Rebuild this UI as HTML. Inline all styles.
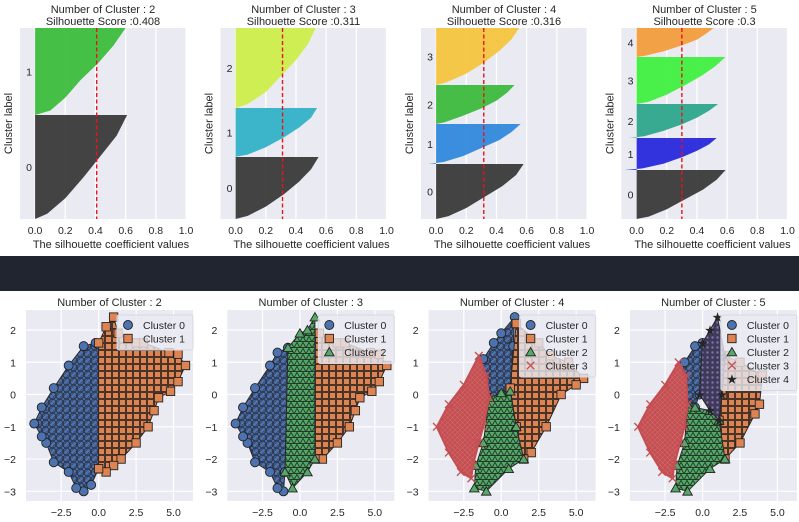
<!DOCTYPE html>
<html><head><meta charset="utf-8"><style>
body{margin:0;background:#fff;width:799px;height:522px;overflow:hidden;font-family:"Liberation Sans",sans-serif}
svg{display:block}
text{font-family:"Liberation Sans",sans-serif;fill:#262626}
</style></head><body>
<svg id="c" width="799" height="522">
<defs>
<pattern id="pat0" width="7" height="7" patternUnits="userSpaceOnUse"><rect width="7" height="7" fill="#4c72b0"/><circle cx="3.5" cy="3.5" r="3.4" fill="#4c72b0" stroke="#2a2f3f" stroke-width="0.9"/><circle cx="0" cy="0" r="3.4" fill="none" stroke="#2a2f3f" stroke-width="0.6"/><circle cx="7" cy="7" r="3.4" fill="none" stroke="#2a2f3f" stroke-width="0.6"/></pattern>
<pattern id="pat1" width="7" height="7" patternUnits="userSpaceOnUse"><rect width="7" height="7" fill="#dd8452"/><rect x="0.5" y="0.5" width="6" height="6" fill="#dd8452" stroke="#3a2a22" stroke-width="0.9"/></pattern>
<pattern id="pat2" width="6" height="6" patternUnits="userSpaceOnUse"><rect width="6" height="6" fill="#55a868"/><path d="M3,0.3 L5.8,5.5 L0.2,5.5 Z" fill="#55a868" stroke="#1f3a26" stroke-width="0.9"/></pattern>
<pattern id="pat3" width="5" height="5" patternUnits="userSpaceOnUse"><rect width="5" height="5" fill="#c44e52"/><path d="M0,0 L5,5 M5,0 L0,5" stroke="#d2696c" stroke-width="0.6"/></pattern>
<pattern id="pat4" width="5" height="5" patternUnits="userSpaceOnUse"><rect width="5" height="5" fill="#3e3a58"/><circle cx="2.5" cy="2.5" r="1.2" fill="#8172b3"/></pattern>
</defs>
<rect x="0" y="256" width="799" height="35" fill="#21252f"/>
</svg>
<script>
// ---------- silhouette data ----------
const silK = [2,3,4,5];
const silScores = [0.408,0.311,0.316,0.3];
const silSizes = [[104,87],[62,49,80],[55,40,39,57],[49,32,34,47,29]];
const silFracs = [0,0.05,0.2,0.4,0.6,0.8,1];
const silProfiles = [
 [[0,0.08,0.2,0.32,0.43,0.54,0.61],[0,0.1,0.2,0.3,0.42,0.52,0.6]],
 [[0,0.08,0.2,0.32,0.42,0.5,0.55],[-0.01,0.08,0.2,0.32,0.42,0.5,0.54],[0,0.08,0.2,0.3,0.4,0.48,0.53]],
 [[0,0.08,0.2,0.32,0.44,0.53,0.58],[-0.05,0.05,0.18,0.3,0.42,0.5,0.56],[0,0.06,0.17,0.3,0.4,0.47,0.52],[0,0.07,0.2,0.32,0.42,0.5,0.55]],
 [[0,0.08,0.2,0.32,0.44,0.53,0.59],[-0.08,0.04,0.18,0.3,0.4,0.48,0.53],[-0.05,0.05,0.17,0.3,0.4,0.48,0.54],[0,0.08,0.2,0.32,0.43,0.52,0.59],[0,0.06,0.18,0.3,0.4,0.46,0.51]]
];
const silColors = [["#3a3a3a","#3dbd3d"],["#3a3a3a","#33b1c6","#cdee4a"],["#3a3a3a","#3189dc","#3cbb3c","#f6c53e"],["#3a3a3a","#2929dc","#2ea68c","#3ff03f","#f39d3d"]];
const silTicks = [0,0.2,0.4,0.6,0.8,1.0];
const silTickLabels = ["0.0","0.2","0.4","0.6","0.8","1.0"];

// ---------- scatter data (cluster outlines in data units) ----------
const scK = [2,3,4,5];
const scColors = ["#4c72b0","#dd8452","#55a868","#c44e52","#8172b3"];
const scXTicks = [-2.5,0,2.5,5];
const scXTickLabels = ["\u22122.5","0.0","2.5","5.0"];
const scYTicks = [2,1,0,-1,-2,-3];
const scYTickLabels = ["2","1","0","\u22121","\u22122","\u22123"];
const hullK2 = [
 [[-0.2,1.6],[0,1.55],[0,-2.3],[-0.5,-2.8],[-1,-3],[-1.5,-2.9],[-2,-2.4],[-3,-2.1],[-3.5,-1.5],[-3.8,-1.3],[-4.3,-0.9],[-3.8,-0.4],[-3,0.2],[-2,0.9],[-1,1.5]],
 [[0,1.6],[0.5,2.1],[1,2.4],[1.3,1.9],[2.5,1.6],[3,1.6],[4.7,1.3],[5.3,1.25],[5.8,0.9],[5.3,0.4],[4.8,0.1],[4,-0.1],[3.7,-0.5],[3.3,-1],[2.5,-1.5],[1.5,-2],[1,-2.2],[0.5,-2.4],[0,-2.3]]
];
const hullK3 = [
 [[-1.5,1.3],[-0.8,1.45],[-1,-2.4],[-1.1,-3],[-1.5,-2.9],[-2,-2.4],[-3,-2.1],[-3.5,-1.5],[-3.8,-1.3],[-4.3,-0.9],[-3.8,-0.4],[-3,0.2],[-2,0.9]],
 [[1,1.9],[1.3,1.9],[2.5,1.6],[3,1.6],[4.7,1.3],[5.3,1.25],[5.8,0.9],[5.3,0.4],[4.8,0.1],[4,-0.1],[3.7,-0.5],[3.3,-1],[2.5,-1.5],[1.5,-2],[1,-2]],
 [[-0.8,1.45],[0,1.9],[0.5,2],[1,2.4],[1,-2],[0.5,-2.4],[-0.5,-2.9],[-1,-2.4]]
];
const hullK4 = [
 [[-1.2,1.1],[-0.5,1.6],[0,1.9],[0.9,2.4],[0.8,1.5],[0.6,0.2],[0,0],[-0.8,-0.1],[-1.4,0.5]],
 [[0.6,0.2],[1,2.2],[2.5,1.6],[3.3,1.2],[4.5,1],[5.5,0.5],[5,0.3],[4,0],[3,-1],[2,-1.8],[1.5,-2],[1,-1]],
 [[-0.8,-0.1],[0,0.05],[0.6,0.1],[1,-1],[1.5,-2],[0.5,-2.3],[-1,-3],[-1.8,-2.9],[-1.7,-2.2],[-1.2,-1.5]],
 [[-1.5,1.2],[-1,0.6],[-0.8,-0.1],[-1.2,-1],[-1.5,-1.5],[-1.9,-2.2],[-2,-2.6],[-2.7,-2.4],[-3.5,-1.8],[-4.3,-1],[-3.5,-0.3],[-2.5,0.3]]
];
const hullK5 = [
 [[-1.2,1],[-0.5,1.5],[0,1.6],[-0.2,0],[-0.5,-0.4],[-1,-0.3],[-1.5,0.3]],
 [[1.5,1.2],[2.5,1],[4,0.6],[3.8,-0.3],[3.5,-0.6],[2.5,-1.5],[1.5,-2],[1.1,-0.8],[1.3,0]],
 [[-1,-0.3],[-0.5,-0.4],[0.5,-0.5],[1.1,-0.8],[1.5,-2],[0.5,-2.3],[-1,-3],[-1.8,-2.9],[-1.7,-2.2],[-1.2,-1.5]],
 [[-1.6,1],[-1.1,0.6],[-1,-0.3],[-1.2,-1],[-1.5,-1.5],[-1.9,-2.2],[-2,-2.6],[-2.7,-2.4],[-3.5,-1.8],[-4.3,-1],[-3.5,-0.3],[-2.5,0.3]],
 [[0,1.6],[0.5,2],[1,2.4],[1.5,1.2],[1.3,0],[1.1,-0.8],[0.5,-0.5],[-0.2,0]]
];
const scHulls = [hullK2,hullK3,hullK4,hullK5];

const NS="http://www.w3.org/2000/svg";
const svg=document.getElementById('c');
function mk(tag,attrs,parent){const e=document.createElementNS(NS,tag);for(const k in attrs)e.setAttribute(k,attrs[k]);(parent||svg).appendChild(e);return e;}
function txt(x,y,s,size,anchor,parent){const t=mk('text',{x:x,y:y,'font-size':size,'text-anchor':anchor||'middle'},parent);t.textContent=s;return t;}

// ---------- silhouette plots ----------
const sT=28,sB=219,sW=166;
silK.forEach((k,p)=>{
  const L=20+p*200.5;
  const g=mk('g',{});
  
  
  const xs=v=>L+(v+0.1)/1.1*sW;
  const total=silSizes[p].reduce((a,b)=>a+b,0);
  const ys=v=>sB-v/total*(sB-sT);
  const bg=mk('rect',{x:L,y:sT,width:sW,height:sB-sT,fill:'#eaeaf2'},g);
  
  
  silTicks.forEach((t,i)=>{
    mk('line',{x1:xs(t),x2:xs(t),y1:sT,y2:sB,stroke:'#fff','stroke-width':1.2},g);
    const tl=txt(xs(t),sB+15,silTickLabels[i],10.5,'middle',g);
    
    
  });
  let base=0;
  silSizes[p].forEach((n,c)=>{
    const prof=silProfiles[p][c];
    let d='M'+xs(0)+','+ys(base);
    silFracs.forEach((f,i)=>{d+=' L'+xs(prof[i]).toFixed(1)+','+ys(base+f*n).toFixed(1);});
    d+=' L'+xs(0)+','+ys(base+n)+' Z';
    const poly=mk('path',{d:d,fill:silColors[p][c],opacity:0.95},g);
    
    
    const yl=txt(L+9,ys(base+n/2)+4,String(c),10.5,'middle',g);
    
    
    base+=n;
  });
  const sl=mk('line',{x1:xs(silScores[p]),x2:xs(silScores[p]),y1:sT,y2:sB,stroke:'#e8141a','stroke-width':1.4,'stroke-dasharray':'4,2.5'},g);
  
  
  const t1=txt(L+sW/2,13,'Number of Cluster : '+k,11,'middle',g);
  
  
  const t2=txt(L+sW/2,25,'Silhouette Score :'+silScores[p],11,'middle',g);
  
  
  const xl=txt(L+sW/2+8,248,'The silhouette coefficient values',11,'middle',g);
  
  
  const yl=txt(0,0,'Cluster label',11,'middle',g);
  yl.setAttribute('transform','translate('+(L-8)+','+((sT+sB)/2)+') rotate(-90)');
  
  
});

// ---------- scatter plots ----------
const cT=310,cB=501,cW=167;
function marker(g,type,x,y,col){
  let e;
  if(type===0) e=mk('circle',{cx:x,cy:y,r:4.5,fill:col,stroke:'#222','stroke-width':0.9},g);
  else if(type===1) e=mk('rect',{x:x-4.2,y:y-4.2,width:8.4,height:8.4,fill:col,stroke:'#222','stroke-width':0.9},g);
  else if(type===2) e=mk('path',{d:`M${x},${y-4.5} L${x+4.8},${y+3.8} L${x-4.8},${y+3.8} Z`,fill:col,stroke:'#222','stroke-width':0.9},g);
  else if(type===3) e=mk('path',{d:`M${x-3.8},${y-3.8} L${x+3.8},${y+3.8} M${x+3.8},${y-3.8} L${x-3.8},${y+3.8}`,stroke:col,'stroke-width':1.3,fill:'none'},g);
  else {e=mk('text',{x:x,y:y+4,'font-size':11,'text-anchor':'middle',fill:col,stroke:'#222','stroke-width':0.5},g);e.textContent='\u2605';}
  return e;
}
scK.forEach((k,p)=>{
  const L=26+p*201.3;
  const g=mk('g',{});
  
  
  const xs=v=>L+(v+4.85)/11.15*cW;
  const ys=v=>cT+(2.62-v)/5.92*(cB-cT);
  const bg=mk('rect',{x:L,y:cT,width:cW,height:cB-cT,fill:'#eaeaf2'},g);
  
  
  scXTicks.forEach((t,i)=>{
    mk('line',{x1:xs(t),x2:xs(t),y1:cT,y2:cB,stroke:'#fff','stroke-width':1.2},g);
    const tl=txt(xs(t),cB+15,scXTickLabels[i],10.5,'middle',g);
    
    
  });
  scYTicks.forEach((t,i)=>{
    mk('line',{x1:L,x2:L+cW,y1:ys(t),y2:ys(t),stroke:'#fff','stroke-width':1.2},g);
    const tl=txt(L-10,ys(t)+4,scYTickLabels[i],10.5,'end',g);
    
    
  });
  scHulls[p].forEach((hull,c)=>{
    const col=scColors[c];
    const d='M'+hull.map(q=>xs(q[0]).toFixed(1)+','+ys(q[1]).toFixed(1)).join(' L')+' Z';
    const poly=mk('path',{d:d,fill:'url(#pat'+c+')',stroke:c===3?col:'#2a2a2a','stroke-width':c===3?2:1,'stroke-linejoin':'round'},g);
    
    
    hull.forEach(q=>{
      const m=marker(g,c,xs(q[0]),ys(q[1]),col);
      
      
    });
  });
  const t=txt(L+cW/2,306,'Number of Cluster : '+k,11,'middle',g);
  
  
  // legend
  const lx=L+cW-76, ly=315, lh=8+k*13.5;
  const lg=mk('g',{},g);
  
  
  mk('rect',{x:lx,y:ly,width:76,height:lh,fill:'#eaeaf2','fill-opacity':0.8,stroke:'#d8d8e0',rx:2},lg);
  for(let c=0;c<k;c++){
    const yy=ly+10+c*13.5;
    const m=marker(lg,c,lx+11,yy,scColors[c]);
    
    
    const lt=txt(lx+26,yy+4,'Cluster '+c,10.5,'start',lg);
    
    
  }
});
</script>
</body></html>
